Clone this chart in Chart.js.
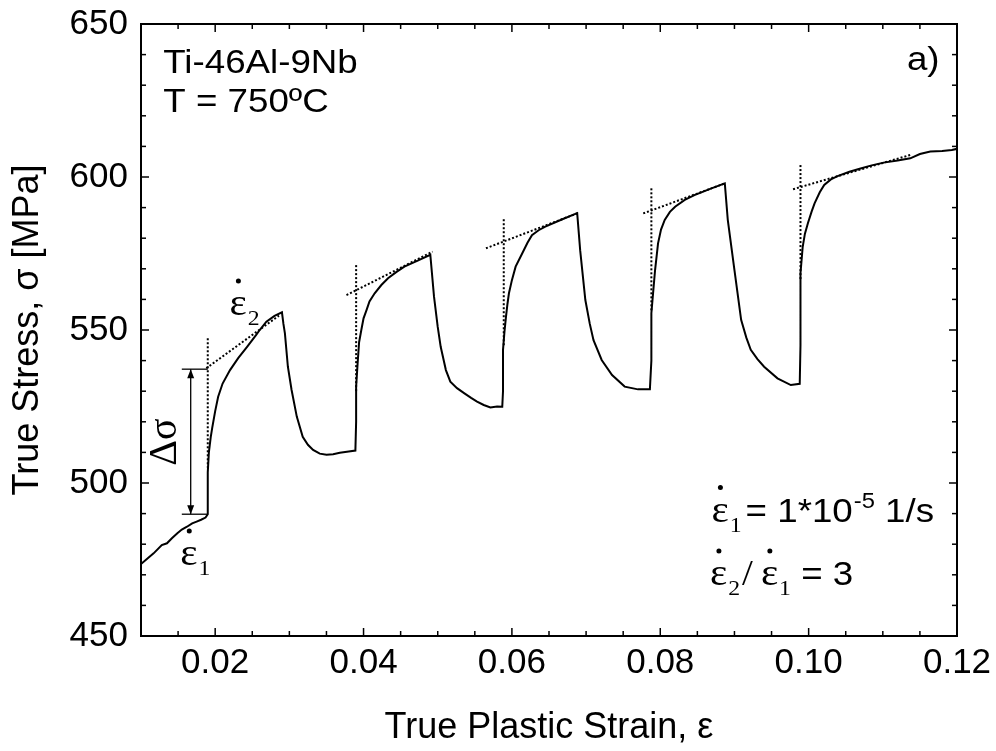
<!DOCTYPE html>
<html lang="en">
<head>
<meta charset="UTF-8">
<title>Ti-46Al-9Nb strain rate jump test</title>
<script src="https://cdn.jsdelivr.net/npm/chart.js"></script>
<style>
  body { margin: 0; background: #fff; }
  #wrap { width: 996px; height: 751px; }
</style>
</head>
<body>
<div id="wrap"><canvas id="jumpChart" width="996" height="751"></canvas></div>
<script>
// axis ticks
const xTickValues = [0.02, 0.04, 0.06, 0.08, 0.10, 0.12];
const yTickValues = [450, 500, 550, 600, 650];

// stress-strain curve
const curveStrain = [
  0.0100, 0.0117, 0.0128, 0.0135, 0.0142, 0.0149, 0.0155, 0.0162, 0.0169, 0.0175, 0.0181, 0.0187, 0.0190,
  0.0190, 0.0190, 0.01915, 0.0194, 0.0196, 0.0200, 0.0204, 0.0210, 0.0220, 0.0231, 0.0243, 0.0255, 0.0260, 0.0269, 0.0280, 0.0290,
  0.0292, 0.0294, 0.0298, 0.0303, 0.0310, 0.0318, 0.0325, 0.0332, 0.0341, 0.0350, 0.0359, 0.0368, 0.0380, 0.0389,
  0.0390, 0.0390, 0.0392, 0.0393, 0.0394, 0.0397, 0.0400, 0.0404, 0.0408, 0.0415, 0.0424, 0.0433, 0.0444, 0.0455, 0.0473, 0.0490,
  0.0495, 0.0500, 0.0504, 0.0511, 0.0517, 0.0526, 0.0536, 0.0545, 0.0553, 0.0562, 0.0571, 0.0580, 0.0587,
  0.0588, 0.0588, 0.0590, 0.0592, 0.0594, 0.0596, 0.0600, 0.0605, 0.0614, 0.0621, 0.0627, 0.0636, 0.0645, 0.0668, 0.0688,
  0.0692, 0.0699, 0.0705, 0.0710, 0.0721, 0.0735, 0.0752, 0.0770, 0.0786,
  0.0788, 0.0788, 0.0791, 0.0793, 0.0797, 0.0801, 0.0806, 0.0813, 0.0820, 0.0833, 0.0846, 0.0869, 0.0887,
  0.0891, 0.0900, 0.0909, 0.0916, 0.0922, 0.0931, 0.0940, 0.0958, 0.0976, 0.0988,
  0.0989, 0.0989, 0.0992, 0.0995, 0.0999, 0.1004, 0.1008, 0.1015, 0.1021, 0.1030, 0.1039, 0.1055, 0.1070, 0.1085, 0.1101, 0.1120, 0.1137, 0.1150, 0.1164, 0.1180, 0.1193, 0.1200
];
const curveStress = [
  473.5, 477.0, 479.7, 480.3, 482.0, 483.6, 484.8, 485.7, 486.8, 487.4, 488.0, 488.7, 489.8,
  497.0, 503.5, 510.0, 515.0, 518.0, 523.5, 528.2, 532.5, 536.9, 540.8, 544.5, 548.3, 550.0, 552.7, 554.6, 555.8,
  552.0, 548.9, 538.0, 530.4, 521.7, 515.1, 512.5, 510.8, 509.6, 509.2, 509.4, 509.9, 510.3, 510.6,
  520.0, 531.5, 539.1, 542.5, 546.0, 550.0, 553.8, 556.5, 559.3, 562.0, 564.7, 566.9, 568.9, 570.7, 572.7, 574.6,
  560.9, 551.0, 544.5, 536.9, 533.1, 531.0, 529.3, 527.8, 526.6, 525.5, 524.7, 525.0, 524.9,
  530.0, 543.5, 549.5, 554.3, 558.5, 562.0, 566.3, 570.7, 575.1, 578.5, 581.0, 582.6, 583.8, 586.2, 588.2,
  576.1, 559.8, 552.0, 546.7, 540.2, 535.3, 531.5, 530.6, 530.6,
  540.0, 555.5, 564.0, 569.6, 578.3, 582.8, 586.0, 588.6, 590.3, 592.5, 594.1, 596.3, 597.9,
  586.0, 569.6, 553.3, 547.5, 543.5, 540.5, 538.0, 534.2, 532.0, 532.4,
  545.0, 568.5, 577.2, 581.5, 584.9, 588.7, 591.4, 595.0, 597.4, 599.2, 600.3, 601.7, 602.8, 603.8, 604.7, 605.4, 606.1, 607.5, 608.3, 608.5, 608.8, 609.2
];

// dotted extrapolation lines
const tangentStrain = [[0.0188, 0.0286], [0.0377, 0.0493], [0.0565, 0.0690], [0.0777, 0.0887], [0.0979, 0.1137]];
const tangentStress = [[537.5, 554.7], [561.4, 575.6], [576.7, 588.3], [588.1, 597.9], [596.0, 607.2]];
const jumpStrain = [0.0190, 0.0390, 0.0589, 0.0788, 0.0989];
const jumpTop = [547.3, 571.2, 586.2, 596.3, 603.9];
const jumpBottom = [505, 530, 545, 556, 566];

// delta sigma bracket
const deltaSigmaTickStrain = [0.0155, 0.0190];
const deltaSigmaArrowStrain = 0.0167;
const deltaSigmaStress = [489.8, 537.2];

const SANS = '"Liberation Sans", Arial, sans-serif';
const SERIF = '"Liberation Serif", "Times New Roman", serif';
const STRETCH = 1.08; // the original lettering is a little wider than Arial

const pts = (xs, ys) => xs.map((x, i) => ({ x: x, y: ys[i] }));

const datasets = [{
  data: pts(curveStrain, curveStress),
  borderColor: '#000', borderWidth: 2, showLine: true, pointRadius: 0, tension: 0
}];
tangentStrain.forEach((xs, i) => datasets.push({
  data: pts(xs, tangentStress[i]),
  borderColor: '#000', borderWidth: 2, borderDash: [2, 2], showLine: true, pointRadius: 0
}));
jumpStrain.forEach((x, i) => datasets.push({
  data: [{ x: x, y: jumpTop[i] }, { x: x, y: jumpBottom[i] }],
  borderColor: '#000', borderWidth: 2, borderDash: [2, 2], showLine: true, pointRadius: 0
}));
deltaSigmaStress.forEach(s => datasets.push({
  data: pts(deltaSigmaTickStrain, [s, s]),
  borderColor: '#000', borderWidth: 1.3, showLine: true, pointRadius: 0
}));
datasets.push({
  data: pts([deltaSigmaArrowStrain, deltaSigmaArrowStrain], deltaSigmaStress),
  borderColor: '#000', borderWidth: 1.3, showLine: true, pointRadius: 0
});

// text drawn slightly stretched, returns its width
function txt(ctx, s, x, y, font) {
  ctx.font = font;
  ctx.save();
  ctx.translate(x, y);
  ctx.scale(STRETCH, 1);
  ctx.fillText(s, 0, 0);
  ctx.restore();
  return ctx.measureText(s).width * STRETCH;
}

// eps with a dot on top and a subscript, returns the x where it ends
function epsDot(ctx, x, y, sub) {
  const w = txt(ctx, '\u03b5', x, y, '38px ' + SERIF);
  ctx.beginPath();
  ctx.arc(x + w * 0.52, y - 34, 2.5, 0, Math.PI * 2);
  ctx.fill();
  const ws = txt(ctx, sub, x + w + 1, y + 10, '22px ' + SERIF);
  return x + w + 1 + ws;
}

const framePlugin = {
  id: 'frame',
  afterDraw(chart) {
    const ctx = chart.ctx;
    const a = chart.chartArea;
    const xs = chart.scales.x, ys = chart.scales.y;
    const sx = v => xs.getPixelForValue(v);
    const sy = v => ys.getPixelForValue(v);
    ctx.save();
    ctx.strokeStyle = '#000';
    ctx.fillStyle = '#000';
    ctx.lineWidth = 2;
    ctx.strokeRect(a.left, a.top, a.right - a.left, a.bottom - a.top);

    // inward ticks on all four sides
    const line = (x1, y1, x2, y2) => { ctx.beginPath(); ctx.moveTo(x1, y1); ctx.lineTo(x2, y2); ctx.stroke(); };
    ctx.lineWidth = 1.5;
    for (let i = 3; i < 24; i++) {
      const px = sx(i * 0.005);
      const len = i % 4 === 0 ? 8 : 5;
      line(px, a.bottom, px, a.bottom - len);
      line(px, a.top, px, a.top + len);
    }
    for (let v = 460; v < 650; v += 10) {
      const py = sy(v);
      const len = v % 50 === 0 ? 8 : 5;
      line(a.left, py, a.left + len, py);
      line(a.right, py, a.right - len, py);
    }

    // arrowheads of the delta sigma bracket
    const ax = sx(deltaSigmaArrowStrain);
    const yTop = sy(deltaSigmaStress[1]), yBot = sy(deltaSigmaStress[0]);
    ctx.beginPath();
    ctx.moveTo(ax, yTop); ctx.lineTo(ax - 3.5, yTop + 9); ctx.lineTo(ax + 3.5, yTop + 9); ctx.closePath(); ctx.fill();
    ctx.beginPath();
    ctx.moveTo(ax, yBot); ctx.lineTo(ax - 3.5, yBot - 9); ctx.lineTo(ax + 3.5, yBot - 9); ctx.closePath(); ctx.fill();

    ctx.textBaseline = 'alphabetic';
    ctx.textAlign = 'left';
    const sans34 = '34px ' + SANS;
    txt(ctx, 'Ti-46Al-9Nb', sx(0.0130), sy(634.0), sans34);
    txt(ctx, 'T = 750\u00baC', sx(0.0130), sy(621.3), sans34);
    txt(ctx, 'a)', sx(0.11325), sy(635.0), sans34);

    // rate annotations
    epsDot(ctx, sx(0.02192), sy(554.9), '2');
    epsDot(ctx, sx(0.0153), sy(473.2), '1');

    let b = sy(487.4);
    let x = epsDot(ctx, sx(0.0869), b, '1') + 4;
    x += txt(ctx, '= 1*10', x, b, sans34) + 1;
    x += txt(ctx, '-5', x, b - 14, '22px ' + SANS);
    txt(ctx, ' 1/s', x, b, sans34);

    b = sy(466.7);
    x = epsDot(ctx, sx(0.0867), b, '2') + 2;
    x += txt(ctx, '/', x, b, '36px ' + SERIF) + 8;
    x = epsDot(ctx, x, b, '1');
    txt(ctx, ' = 3', x, b, sans34);

    // rotated delta sigma label
    ctx.translate(sx(0.01329), sy(513.4));
    ctx.rotate(-Math.PI / 2);
    ctx.textAlign = 'center';
    ctx.textBaseline = 'middle';
    ctx.font = '40px ' + SERIF;
    ctx.fillText('\u0394\u03c3', 0, 0);
    ctx.restore();
  }
};

new Chart(document.getElementById('jumpChart').getContext('2d'), {
  type: 'scatter',
  data: { datasets: datasets },
  options: {
    responsive: false,
    devicePixelRatio: 1,
    animation: false,
    layout: { padding: { left: 0, right: 39, top: 24, bottom: 0 } },
    plugins: { legend: { display: false }, tooltip: { enabled: false } },
    scales: {
      x: {
        type: 'linear', min: 0.01, max: 0.12,
        afterBuildTicks: s => { s.ticks = xTickValues.map(v => ({ value: v })); },
        afterFit: s => { s.height = 115; s.paddingLeft = 0; s.paddingRight = 0; },
        grid: { display: false, drawTicks: false },
        border: { display: false },
        ticks: { color: '#000', font: { family: SANS, size: 35 }, padding: 6, maxRotation: 0, autoSkip: false,
                 callback: v => v.toFixed(2) },
        title: { display: true, text: 'True Plastic Strain, \u03b5', color: '#000',
                 font: { family: SANS, size: 36 }, padding: { top: 0, bottom: 1 } }
      },
      y: {
        type: 'linear', min: 450, max: 650,
        afterBuildTicks: s => { s.ticks = yTickValues.map(v => ({ value: v })); },
        afterFit: s => { s.width = 141; s.paddingTop = 0; s.paddingBottom = 0; },
        grid: { display: false, drawTicks: false },
        border: { display: false },
        ticks: { color: '#000', font: { family: SANS, size: 35 }, padding: 13 },
        title: { display: true, text: 'True Stress, \u03c3 [MPa]', color: '#000',
                 font: { family: SANS, size: 36 }, padding: { top: 6, bottom: 0 } }
      }
    }
  },
  plugins: [framePlugin]
});
</script>
</body>
</html>
